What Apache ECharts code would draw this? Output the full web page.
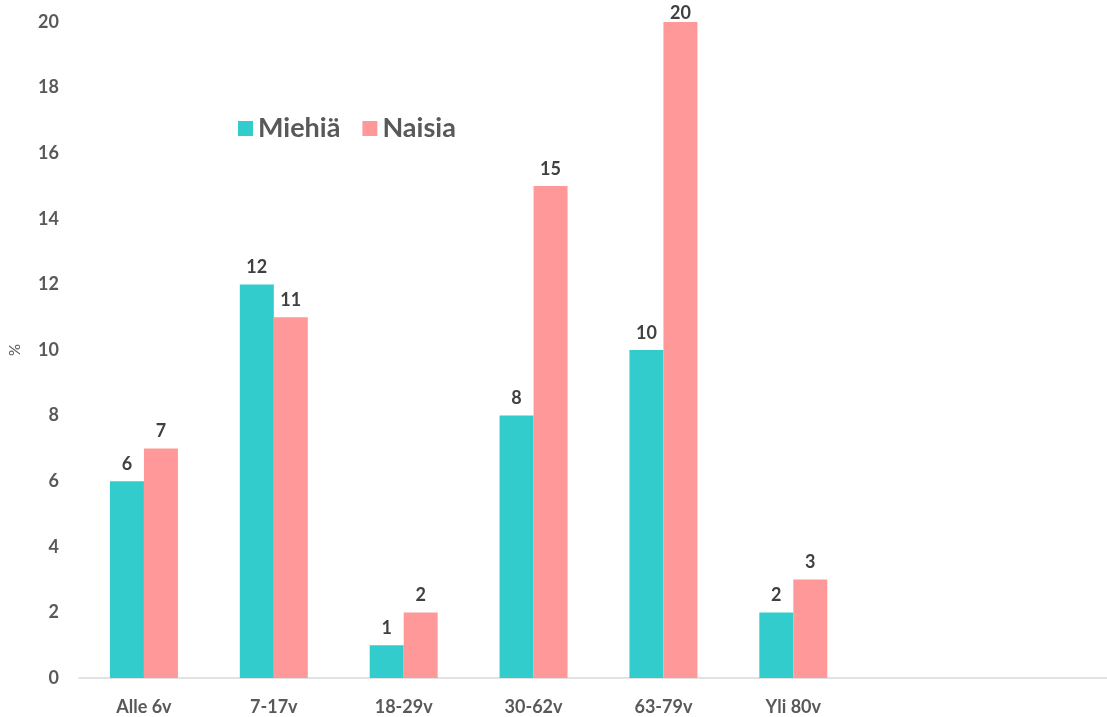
<!DOCTYPE html>
<html>
<head>
<meta charset="utf-8">
<style>
  html, body { margin: 0; padding: 0; background: #fff; overflow: hidden; }
  #chart { width: 1118px; height: 717px; }
</style>
<script src="https://cdn.jsdelivr.net/npm/echarts@6/dist/echarts.min.js"></script>
</head>
<body>
<div id="chart"></div>
<script>
// ikäryhmät (kaksi tyhjää paikkaa oikealla kuten alkuperäisessä)
const categories = ['Alle 6v', '7-17v', '18-29v', '30-62v', '63-79v', 'Yli 80v', '', '']
const miehia = [6, 12, 1, 8, 10, 2, null, null]
const naisia = [7, 11, 2, 15, 20, 3, null, null]
const yTicks = { min: 0, max: 20, interval: 2 }

const textColor = '#595959'
const fontFamily = 'Lato, "Open Sans", sans-serif'

const chart = echarts.init(document.getElementById('chart'))

const labelStyle = {
  show: true,
  position: 'top',
  distance: 8,
  color: '#404040',
  fontWeight: 'bold',
  fontSize: 18,
  fontFamily: fontFamily
}

// yläreunaan osuva arvo painetaan palkin päälle (kuten Excelissä)
function withLabels(arr) {
  return arr.map(v => v === yTicks.max ? { value: v, label: { distance: 0 } } : v)
}

chart.setOption({
  animation: false,
  textStyle: { fontFamily: fontFamily },
  grid: {
    left: 77,
    right: 0,
    top: 22,
    bottom: 39
  },
  legend: {
    left: 233,
    top: 110,
    itemWidth: 15,
    itemHeight: 15,
    itemGap: 22,
    icon: 'rect',
    textStyle: {
      color: textColor,
      fontSize: 27,
      fontWeight: 'bold',
      fontFamily: fontFamily
    },
    data: ['Miehiä', 'Naisia']
  },
  xAxis: {
    type: 'category',
    data: categories,
    axisLine: { lineStyle: { color: '#d9d9d9', width: 1.5 } },
    axisTick: { show: false },
    axisLabel: {
      color: textColor,
      fontWeight: 'bold',
      fontSize: 18,
      margin: 20
    }
  },
  yAxis: {
    type: 'value',
    min: yTicks.min,
    max: yTicks.max,
    interval: yTicks.interval,
    name: '%',
    nameLocation: 'middle',
    nameGap: 56,
    nameRotate: 90,
    nameTextStyle: { color: textColor, fontSize: 15 },
    axisLine: { show: false },
    axisTick: { show: false },
    splitLine: { show: false },
    axisLabel: {
      color: textColor,
      fontWeight: 'bold',
      fontSize: 18,
      margin: 20
    }
  },
  series: [
    {
      name: 'Miehiä',
      type: 'bar',
      data: withLabels(miehia),
      barWidth: 34,
      barGap: '0%',
      itemStyle: { color: '#33CCCC' },
      label: labelStyle
    },
    {
      name: 'Naisia',
      type: 'bar',
      data: withLabels(naisia),
      barWidth: 34,
      itemStyle: { color: '#FF9999' },
      label: labelStyle
    }
  ]
})
</script>
</body>
</html>
